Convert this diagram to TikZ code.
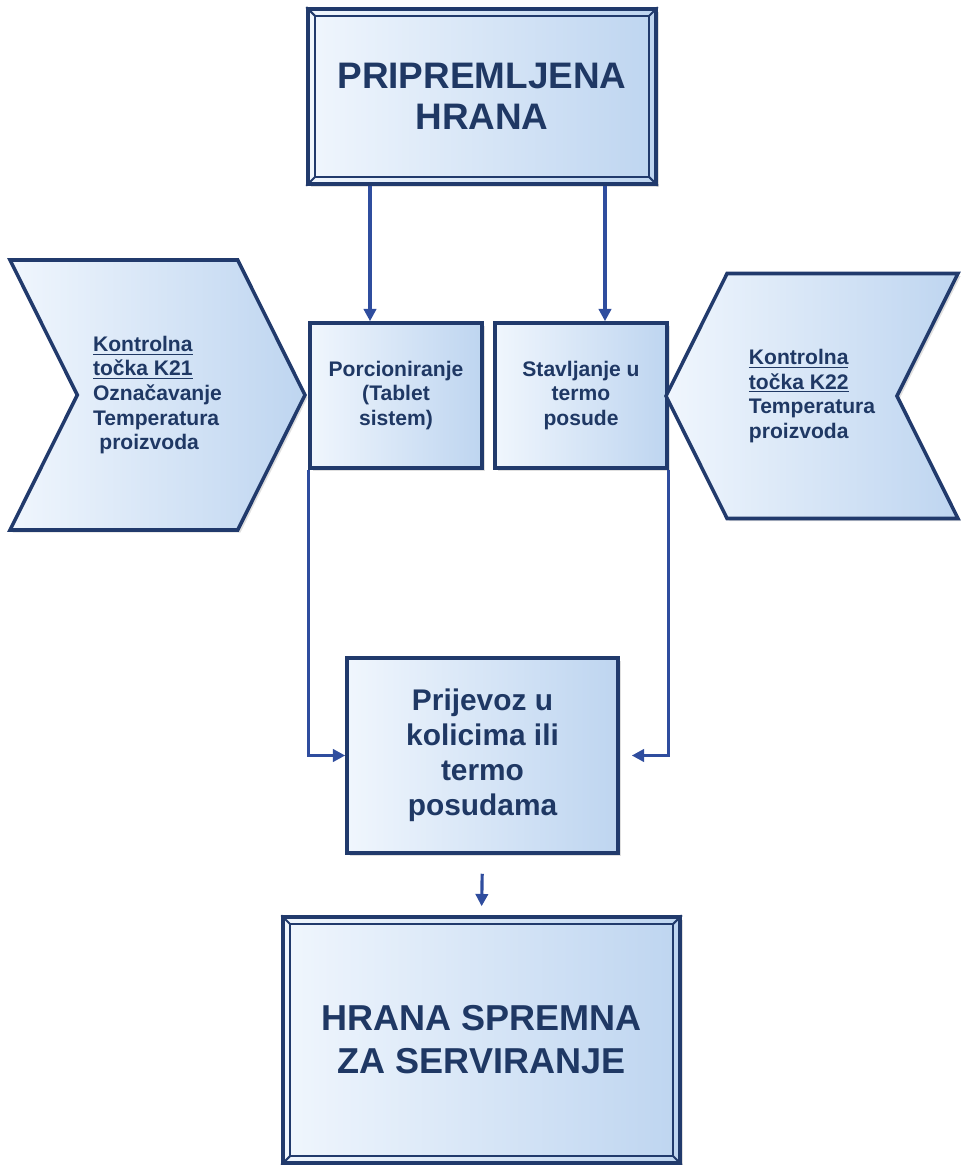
\documentclass[tikz,border=0pt]{standalone}
\usepackage{fontspec}
\setmainfont{Liberation Sans}
\usetikzlibrary{shapes.symbols,shadows,arrows.meta}
\definecolor{navy}{RGB}{31,56,100}
\definecolor{framecol}{RGB}{33,58,108}
\definecolor{arrowcol}{RGB}{47,77,158}
\definecolor{lightfill}{RGB}{240,246,253}
\definecolor{darkfill}{RGB}{190,213,240}
\begin{document}
\begin{tikzpicture}[x=0.02cm, y=-0.02cm, thick]
\tikzstyle{box}=[rectangle, draw=framecol, line width=2pt, left color=lightfill, right color=darkfill, drop shadow={opacity=0.25, shadow xshift=1.5pt, shadow yshift=-1.5pt}, text=navy, align=center, font=\bfseries\fontsize{12}{14}\selectfont]
\tikzstyle{chevron}=[box, signal, signal pointer angle=127, align=left]
\tikzstyle{bevel}=[draw=framecol, line width=1.2pt]
\tikzstyle{link}=[-{Triangle[length=7pt,width=7pt]}, line width=1.8pt, arrowcol]
\useasboundingbox (0,0) rectangle (963,1165);

\node[box, minimum width=348*0.02cm, minimum height=175*0.02cm, font=\bfseries\fontsize{21}{23}\selectfont] (Node-Hrana) at (482,96.5) {PRIPREMLJENA\\HRANA};
\node[box, minimum width=172*0.02cm, minimum height=145*0.02cm] (Node-Porc) at (396,395.5) {Porcioniranje\\(Tablet\\sistem)};
\node[box, minimum width=172*0.02cm, minimum height=145*0.02cm] (Node-Stav) at (581,395.5) {Stavljanje u\\termo\\posude};
\node[box, minimum width=271*0.02cm, minimum height=195*0.02cm, font=\bfseries\fontsize{17}{20}\selectfont] (Node-Prijevoz) at (482.5,755.5) {Prijevoz u\\kolicima ili\\termo\\posudama};
\node[box, minimum width=397*0.02cm, minimum height=246*0.02cm, font=\bfseries\fontsize{20.5}{24.5}\selectfont] (Node-Serv) at (481.5,1040) {HRANA SPREMNA\\ZA SERVIRANJE};

\node[chevron, signal to=east, signal from=west, minimum width=295*0.02cm, minimum height=270*0.02cm] (Node-K21) at (157.5,395) {\underline{Kontrolna}\\\underline{točka K21}\\Označavanje\\Temperatura\\\hspace*{0.3em}proizvoda};
\node[chevron, signal to=west, signal from=east, minimum width=292*0.02cm, minimum height=245*0.02cm] (Node-K22) at (812,396) {\underline{Kontrolna}\\\underline{točka K22}\\Temperatura\\proizvoda};

% bevelled frames
\foreach \b in {Node-Hrana, Node-Serv} {
	\draw[bevel] ([shift={(9,9)}]\b.north west) rectangle ([shift={(-9,-9)}]\b.south east);
	\draw[bevel] (\b.north west) -- ++(9,9);
	\draw[bevel] (\b.north east) -- ++(-9,9);
	\draw[bevel] (\b.south west) -- ++(9,-9);
	\draw[bevel] (\b.south east) -- ++(-9,-9);
}

\draw[link] ([xshift=-0.52cm]Node-Porc.north |- Node-Hrana.south) -- ([xshift=-0.52cm]Node-Porc.north);
\draw[link] ([xshift=0.48cm]Node-Stav.north |- Node-Hrana.south) -- ([xshift=0.48cm]Node-Stav.north);

\draw[link] (Node-Porc.south west) |- (Node-Prijevoz.west);
\draw[link, shorten >=0.24cm] (Node-Stav.south east) |- (Node-Prijevoz.east);

\draw[link, shorten <=0.38cm, shorten >=0.18cm] (Node-Prijevoz.south) -- (Node-Serv.north);
\end{tikzpicture}
\end{document}
